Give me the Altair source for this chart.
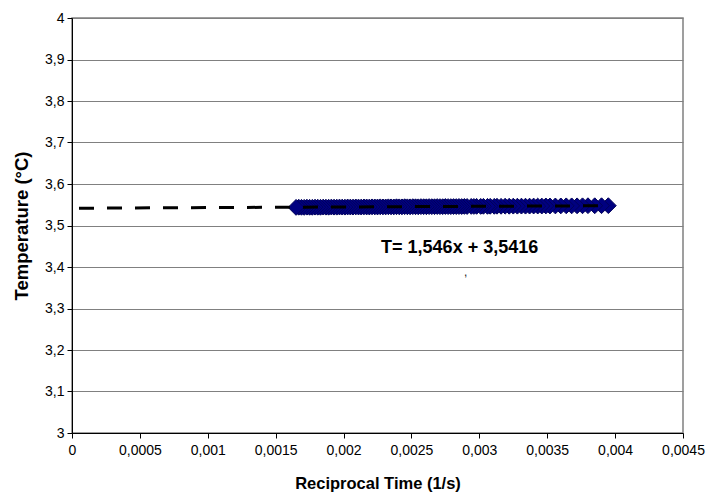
import altair as alt
import pandas as pd

# Measured data (reciprocal time, temperature)
recip_time = [0.00395, 0.00390, 0.00385, 0.00380, 0.00376, 0.00372, 0.00368, 0.00364,
              0.00360, 0.00356, 0.00352, 0.00349, 0.00346, 0.00343, 0.00340, 0.00337,
              0.00334, 0.00331, 0.00328, 0.00325, 0.00322, 0.00319, 0.00316, 0.00313,
              0.00311, 0.00308, 0.00306, 0.00303, 0.00301, 0.00298, 0.00296, 0.00294,
              0.00291, 0.00289, 0.00287, 0.00285, 0.00283, 0.00281, 0.00279, 0.00277,
              0.00275, 0.00273, 0.00271, 0.00269, 0.00267, 0.00265, 0.00263, 0.00261,
              0.00259, 0.00257, 0.00255, 0.00253, 0.00251, 0.00249, 0.00247, 0.00245,
              0.00243, 0.00241, 0.00239, 0.00237, 0.00235, 0.00233, 0.00231, 0.00229,
              0.00227, 0.00225, 0.00223, 0.00221, 0.00219, 0.00217, 0.00215, 0.00213,
              0.00211, 0.00209, 0.00207, 0.00205, 0.00203, 0.00201, 0.00199, 0.00197,
              0.00195, 0.00193, 0.00191, 0.00189, 0.00187, 0.00185, 0.00183, 0.00181,
              0.00179, 0.00177, 0.00175, 0.00173, 0.00171, 0.00169, 0.00167, 0.00165]
temperature = [3.5478, 3.5477, 3.5476, 3.5477, 3.5475, 3.5474, 3.5473, 3.5474,
               3.5472, 3.5471, 3.5470, 3.5471, 3.5469, 3.5468, 3.5469, 3.5467,
               3.5466, 3.5467, 3.5465, 3.5466, 3.5464, 3.5465, 3.5463, 3.5464,
               3.5462, 3.5463, 3.5461, 3.5462, 3.5460, 3.5461, 3.5459, 3.5460,
               3.5458, 3.5459, 3.5457, 3.5458, 3.5456, 3.5457, 3.5455, 3.5456,
               3.5458, 3.5454, 3.5455, 3.5457, 3.5453, 3.5454, 3.5456, 3.5452,
               3.5453, 3.5455, 3.5451, 3.5452, 3.5454, 3.5450, 3.5451, 3.5453,
               3.5449, 3.5450, 3.5452, 3.5448, 3.5449, 3.5451, 3.5447, 3.5448,
               3.5450, 3.5446, 3.5447, 3.5449, 3.5445, 3.5446, 3.5448, 3.5444,
               3.5445, 3.5447, 3.5443, 3.5444, 3.5446, 3.5442, 3.5443, 3.5445,
               3.5441, 3.5442, 3.5444, 3.5440, 3.5441, 3.5443, 3.5439, 3.5440,
               3.5442, 3.5438, 3.5439, 3.5441, 3.5437, 3.5438, 3.5440, 3.5436]

# Linear trendline endpoints (T = 1.546x + 3.5416, backward forecast to 0)
trend_x = [0.0, 0.00395]
trend_y = [3.5416, 3.5477]

x_ticks = [0, 0.0005, 0.001, 0.0015, 0.002, 0.0025, 0.003, 0.0035, 0.004, 0.0045]
y_ticks = [3, 3.1, 3.2, 3.3, 3.4, 3.5, 3.6, 3.7, 3.8, 3.9, 4]

equation_label = "T= 1,546x + 3,5416"

pts = pd.DataFrame({"x": recip_time, "y": temperature})
trend = pd.DataFrame({"x": trend_x, "y": trend_y})

FONT = "Liberation Sans"
comma_expr = "replace(toString(datum.value), '.', ',')"

x_scale = alt.Scale(domain=[0, 0.0045], nice=False, zero=False)
y_scale = alt.Scale(domain=[3, 4], nice=False, zero=False)

x_axis = alt.Axis(values=x_ticks, labelExpr=comma_expr, grid=False,
                  title="Reciprocal Time (1/s)", titleFont=FONT, titleFontSize=16.5,
                  titleFontWeight="bold", titleColor="#000", titlePadding=18,
                  labelFont=FONT, labelFontSize=14, labelColor="#000", labelPadding=5,
                  domainColor="#000", tickColor="#000", tickSize=5, labelFlush=False)
y_axis = alt.Axis(values=y_ticks, labelExpr=comma_expr, grid=True, gridColor="#808080",
                  gridWidth=1, title="Temperature (°C)", titleFont=FONT, titleFontSize=18.5,
                  titleFontWeight="bold", titleColor="#000", titlePadding=13,
                  labelFont=FONT, labelFontSize=14, labelColor="#000", labelPadding=3,
                  domainColor="#000", tickColor="#000", tickSize=5)

points = alt.Chart(pts).mark_point(
    shape="diamond", filled=True, size=250, color="#000080",
    stroke="#00005a", strokeWidth=1, opacity=1
).encode(
    x=alt.X("x:Q", scale=x_scale, axis=x_axis),
    y=alt.Y("y:Q", scale=y_scale, axis=y_axis),
)

line = alt.Chart(trend).mark_line(
    color="#000000", strokeWidth=3, strokeDash=[15, 13], strokeDashOffset=-7
).encode(
    x=alt.X("x:Q", scale=x_scale),
    y=alt.Y("y:Q", scale=y_scale),
)

label_df = pd.DataFrame({"x": [0.002855], "y": [3.446], "t": [equation_label]})
eq = alt.Chart(label_df).mark_text(
    font=FONT, fontSize=18, fontWeight="bold", color="#000", align="center", baseline="middle"
).encode(x=alt.X("x:Q", scale=x_scale), y=alt.Y("y:Q", scale=y_scale), text="t:N")

comma_df = pd.DataFrame({"x": [0.00290], "y": [3.388], "t": [","]})
comma = alt.Chart(comma_df).mark_text(
    font=FONT, fontSize=12, color="#222", align="center", baseline="middle"
).encode(x=alt.X("x:Q", scale=x_scale), y=alt.Y("y:Q", scale=y_scale), text="t:N")

chart = alt.layer(points, line, eq, comma).properties(
    width=611, height=415,
    autosize=alt.AutoSizeParams(type="none"),
    padding={"left": 72, "top": 18, "right": 25, "bottom": 59},
    background="#ffffff",
).configure_view(stroke="#808080", strokeWidth=1.5)

chart.save("out.html", embed_options={"renderer": "svg", "actions": False})
